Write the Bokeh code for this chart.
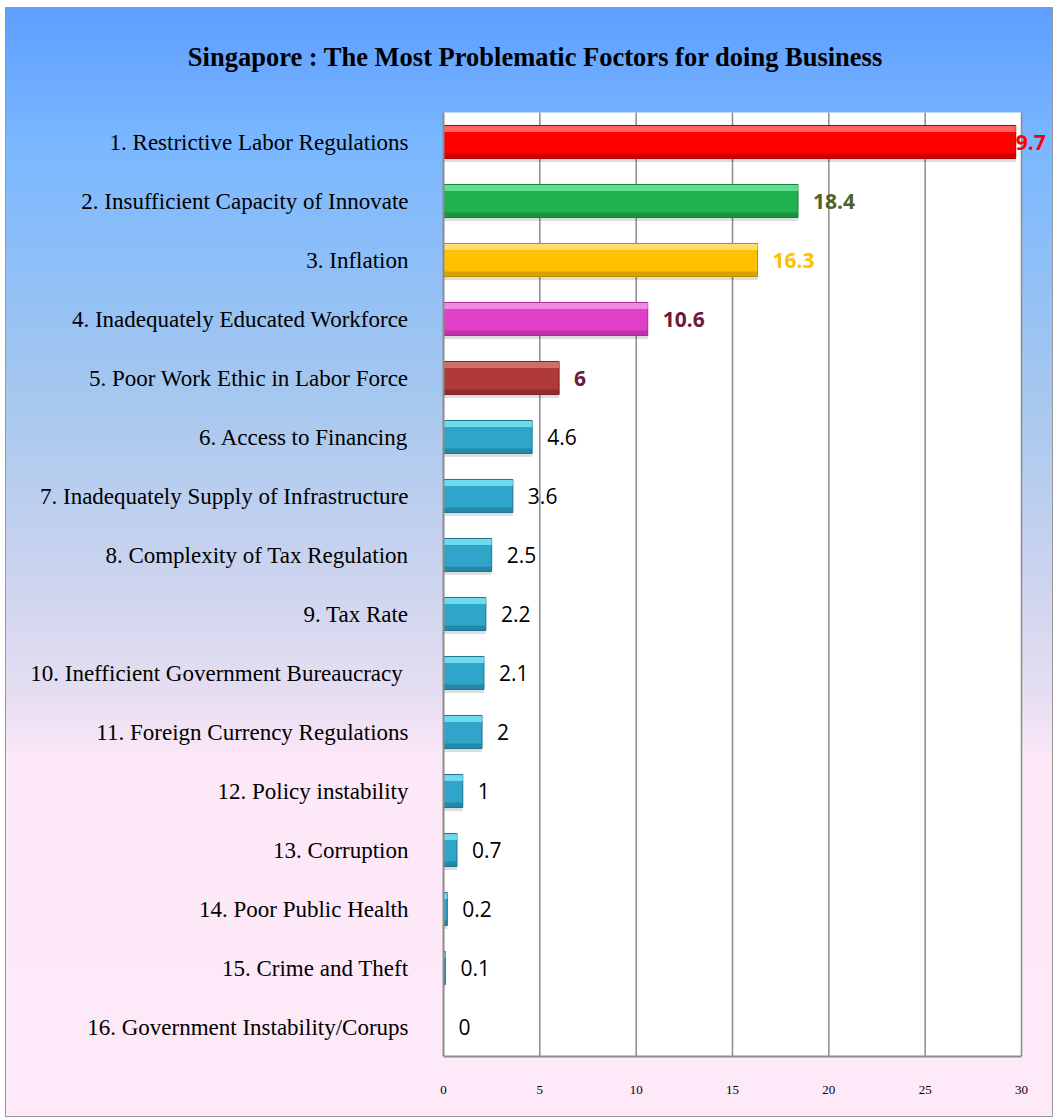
from bokeh.plotting import figure
from bokeh.models import Range1d, FixedTicker, ColumnDataSource, LabelSet, Label
from bokeh.core.properties import value
from bokeh.embed import file_html
from bokeh.resources import INLINE

# ---------------- data ----------------
title_text = "Singapore : The Most Problematic Foctors for doing Business"
categories = [
    "1. Restrictive Labor Regulations",
    "2. Insufficient Capacity of Innovate",
    "3. Inflation",
    "4. Inadequately Educated Workforce",
    "5. Poor Work Ethic in Labor Force",
    "6. Access to Financing",
    "7. Inadequately Supply of Infrastructure",
    "8. Complexity of Tax Regulation",
    "9. Tax Rate",
    "10. Inefficient Government Bureaucracy ",
    "11. Foreign Currency Regulations",
    "12. Policy instability",
    "13. Corruption",
    "14. Poor Public Health",
    "15. Crime and Theft",
    "16. Government Instability/Corups",
]
values = [29.7, 18.4, 16.3, 10.6, 6, 4.6, 3.6, 2.5, 2.2, 2.1, 2, 1, 0.7, 0.2, 0.1, 0]
value_labels = ["29.7", "18.4", "16.3", "10.6", "6", "4.6", "3.6", "2.5",
                "2.2", "2.1", "2", "1", "0.7", "0.2", "0.1", "0"]
x_ticks = [0, 5, 10, 15, 20, 25, 30]

# ---------------- styles ----------------
bar_colors = ["#FF0000", "#1FB24F", "#FFC000", "#E23FC9", "#B03A3A"] + ["#2FA5C9"] * 11
bar_highlights = ["#FF7A7A", "#6FEA9C", "#FFE58A", "#F79CE8", "#D87A7A"] + ["#7FE6F8"] * 11
bar_darks = ["#B00000", "#12803A", "#C08C00", "#A82A94", "#7A2424"] + ["#1F7593"] * 11
label_colors = ["#FF0000", "#4F6228", "#FFC000", "#6B1A3A", "#6B1A3A"] + ["#000000"] * 11
label_styles = ["bold"] * 5 + ["normal"] * 11
label_x_offsets = [-12] + [15] * 15

n = len(categories)
row_pos = [n - i - 0.5 for i in range(n)]

# layout (pixels)
ROW_PX = 59          # height of one category row
AXIS_PX = 578        # width of the 0..30 axis
ZERO_PX = 437        # canvas x of value 0
FRAME_TOP_EXTRA = 104  # pixels above the first row
W, H = 1048, 1110
BOTTOM = 62

x_start = -x_ticks[-1] * ZERO_PX / AXIS_PX
x_end = x_ticks[-1] * (W - ZERO_PX) / AXIS_PX
y_end = n + FRAME_TOP_EXTRA / ROW_PX

source = ColumnDataSource(dict(
    y=row_pos, cat=categories, val=values, lab=value_labels, color=bar_colors,
    dark=bar_darks, lcolor=label_colors, lstyle=label_styles, xoff=label_x_offsets,
    zero=[0] * n,
))

p = figure(
    width=W, height=H,
    x_range=Range1d(x_start, x_end), y_range=Range1d(0, y_end),
    y_axis_location=None,
    output_backend="svg", toolbar_location=None,
    min_border_left=0, min_border_right=0, min_border_top=0, min_border_bottom=BOTTOM,
)
p.styles = {
    "background": "linear-gradient(to bottom, #5E9EFF 0%, #79B7FF 12%, #A8C8EE 36%, #D2D6EE 54%, #E6DEF2 62%, #FDE8F8 68%, #FEE9F8 100%)",
    "border": "1px solid #999999",
    "margin": "7px 0 0 5px",
}
p.border_fill_alpha = 0
p.background_fill_alpha = 0
p.outline_line_color = None
p.xgrid.grid_line_color = None
p.ygrid.grid_line_color = None

# white plot area
panel = p.quad(left=x_ticks[0], right=x_ticks[-1], bottom=0, top=n,
               fill_color="white", line_color=None)
panel.level = "image"
# vertical grid lines
grid = p.segment(x0=x_ticks[1:], y0=[0] * (len(x_ticks) - 1), x1=x_ticks[1:], y1=[n] * (len(x_ticks) - 1),
                 line_color="#8C8C8C", line_width=1.5)
grid.level = "image"

# value labels (beneath bars so the long bar hides its overflow like the original)
labels = LabelSet(x="val", y="y", text="lab", source=source, x_offset="xoff",
                  text_baseline="middle", text_font=value("Open Sans"), text_font_size="21px",
                  text_color="lcolor", text_font_style="lstyle", level="underlay")
p.add_layout(labels)

# category labels
cat_labels = LabelSet(x="zero", y="y", text="cat", source=source, x_offset=-35,
                      text_align="right", text_baseline="middle",
                      text_font=value("Liberation Serif"), text_font_size="23px",
                      text_color="black")
p.add_layout(cat_labels)

BAR_H = 0.56
# soft shadow
shadow_src = ColumnDataSource(dict(y=[r - 0.06 for r in row_pos], val=values))
p.hbar(y="y", right="val", left=0, height=BAR_H, source=shadow_src,
       fill_color="#000000", fill_alpha=0.13, line_color=None)
# main bar
p.hbar(y="y", right="val", left=0, height=BAR_H, source=source,
       fill_color="color", line_color="dark", line_width=1)
# top bevel highlight
hi_src = ColumnDataSource(dict(y=[r + BAR_H / 2 - 0.06 for r in row_pos], val=values, c=bar_highlights))
p.hbar(y="y", right="val", left=0, height=0.1, source=hi_src,
       fill_color="c", fill_alpha=0.8, line_color=None)
# bottom bevel shade
lo_src = ColumnDataSource(dict(y=[r - BAR_H / 2 + 0.045 for r in row_pos], val=values, c=bar_darks))
p.hbar(y="y", right="val", left=0, height=0.08, source=lo_src,
       fill_color="c", fill_alpha=0.6, line_color=None)

# left axis line
p.segment(x0=[x_ticks[0]], y0=[0], x1=[x_ticks[0]], y1=[n], line_color="#8C8C8C", line_width=2)

title = Label(x=0, y=n + 56 / ROW_PX, x_offset=92, text=title_text,
              text_align="center", text_baseline="middle",
              text_font="Liberation Serif", text_font_style="bold", text_font_size="26.5px",
              text_color="black")
p.add_layout(title)

# x axis
p.xaxis.ticker = FixedTicker(ticks=x_ticks)
p.xaxis.bounds = (x_ticks[0], x_ticks[-1])
p.xaxis.major_tick_line_color = None
p.xaxis.minor_tick_line_color = None
p.xaxis.axis_line_color = "#8C8C8C"
p.xaxis.axis_line_width = 2
p.xaxis.major_label_text_font = "Liberation Serif"
p.xaxis.major_label_text_font_size = "13px"
p.xaxis.major_label_text_color = "black"
p.xaxis.major_label_standoff = 23

open("out.html", "w").write(file_html(p, INLINE))
